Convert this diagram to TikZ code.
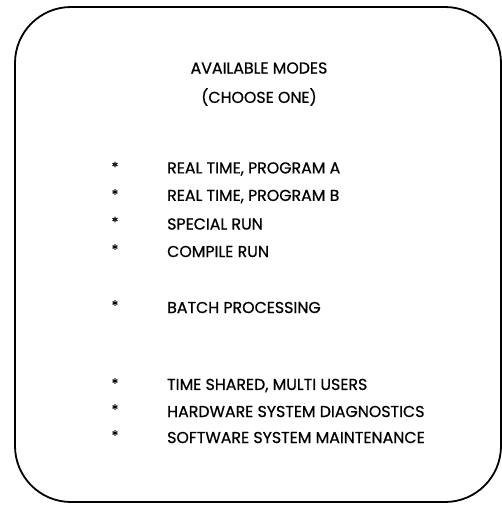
\documentclass[tikz,border=0pt]{standalone}
\usepackage{fontspec}
\setmainfont{Poppins}[FakeBold=0.7]
\usetikzlibrary{arrows}
\tikzstyle{every node}=[font=\fontsize{15.8}{18}\selectfont]
\tikzstyle{screen}=[line width=1.8pt,
                                   rounded corners=56pt]
\tikzstyle{heading}=[inner sep=0pt]
\tikzstyle{bullet}=[inner sep=0pt,font=\fontsize{14}{16}\selectfont]
\tikzstyle{mode}=[inner sep=0pt]

\begin{document}
\begin{tikzpicture}[x=1pt,y=-1pt,node distance=27.5pt]
\useasboundingbox (0,0) rectangle (502,506);
\draw[screen] (15,7) rectangle (501,502);
\node (title)   [heading] at (259,68) {AVAILABLE MODES};
\node (choose)   [heading,below of=title,node distance=29pt] {(CHOOSE ONE)};
\node (s1)   [bullet] at (115,167) {*};
\node (s2)   [bullet,below of=s1] {*};
\node (s3)   [bullet,below of=s2] {*};
\node (s4)   [bullet,below of=s3] {*};
\node (s5)   [bullet,below of=s4,node distance=56pt] {*};
\node (s6)   [bullet,below of=s5,node distance=78pt] {*};
\node (s7)   [bullet,below of=s6,node distance=26pt] {*};
\node (s8)   [bullet,below of=s7,node distance=26pt] {*};
\node (m1)   [mode,right of=s1,node distance=52pt,anchor=west,yshift=-2pt] {REAL TIME, PROGRAM A};
\node (m2)   [mode,right of=s2,node distance=52pt,anchor=west,yshift=-2pt] {REAL TIME, PROGRAM B};
\node (m3)   [mode,right of=s3,node distance=52pt,anchor=west,yshift=-2pt] {SPECIAL RUN};
\node (m4)   [mode,right of=s4,node distance=52pt,anchor=west,yshift=-2pt] {COMPILE RUN};
\node (m5)   [mode,right of=s5,node distance=52pt,anchor=west,yshift=-2pt] {BATCH PROCESSING};
\node (m6)   [mode,right of=s6,node distance=52pt,anchor=west,yshift=-2pt] {TIME SHARED, MULTI USERS};
\node (m7)   [mode,right of=s7,node distance=52pt,anchor=west,yshift=-2pt] {HARDWARE SYSTEM DIAGNOSTICS};
\node (m8)   [mode,right of=s8,node distance=52pt,anchor=west,yshift=-2pt] {SOFTWARE SYSTEM MAINTENANCE};
\end{tikzpicture}
\end{document}
